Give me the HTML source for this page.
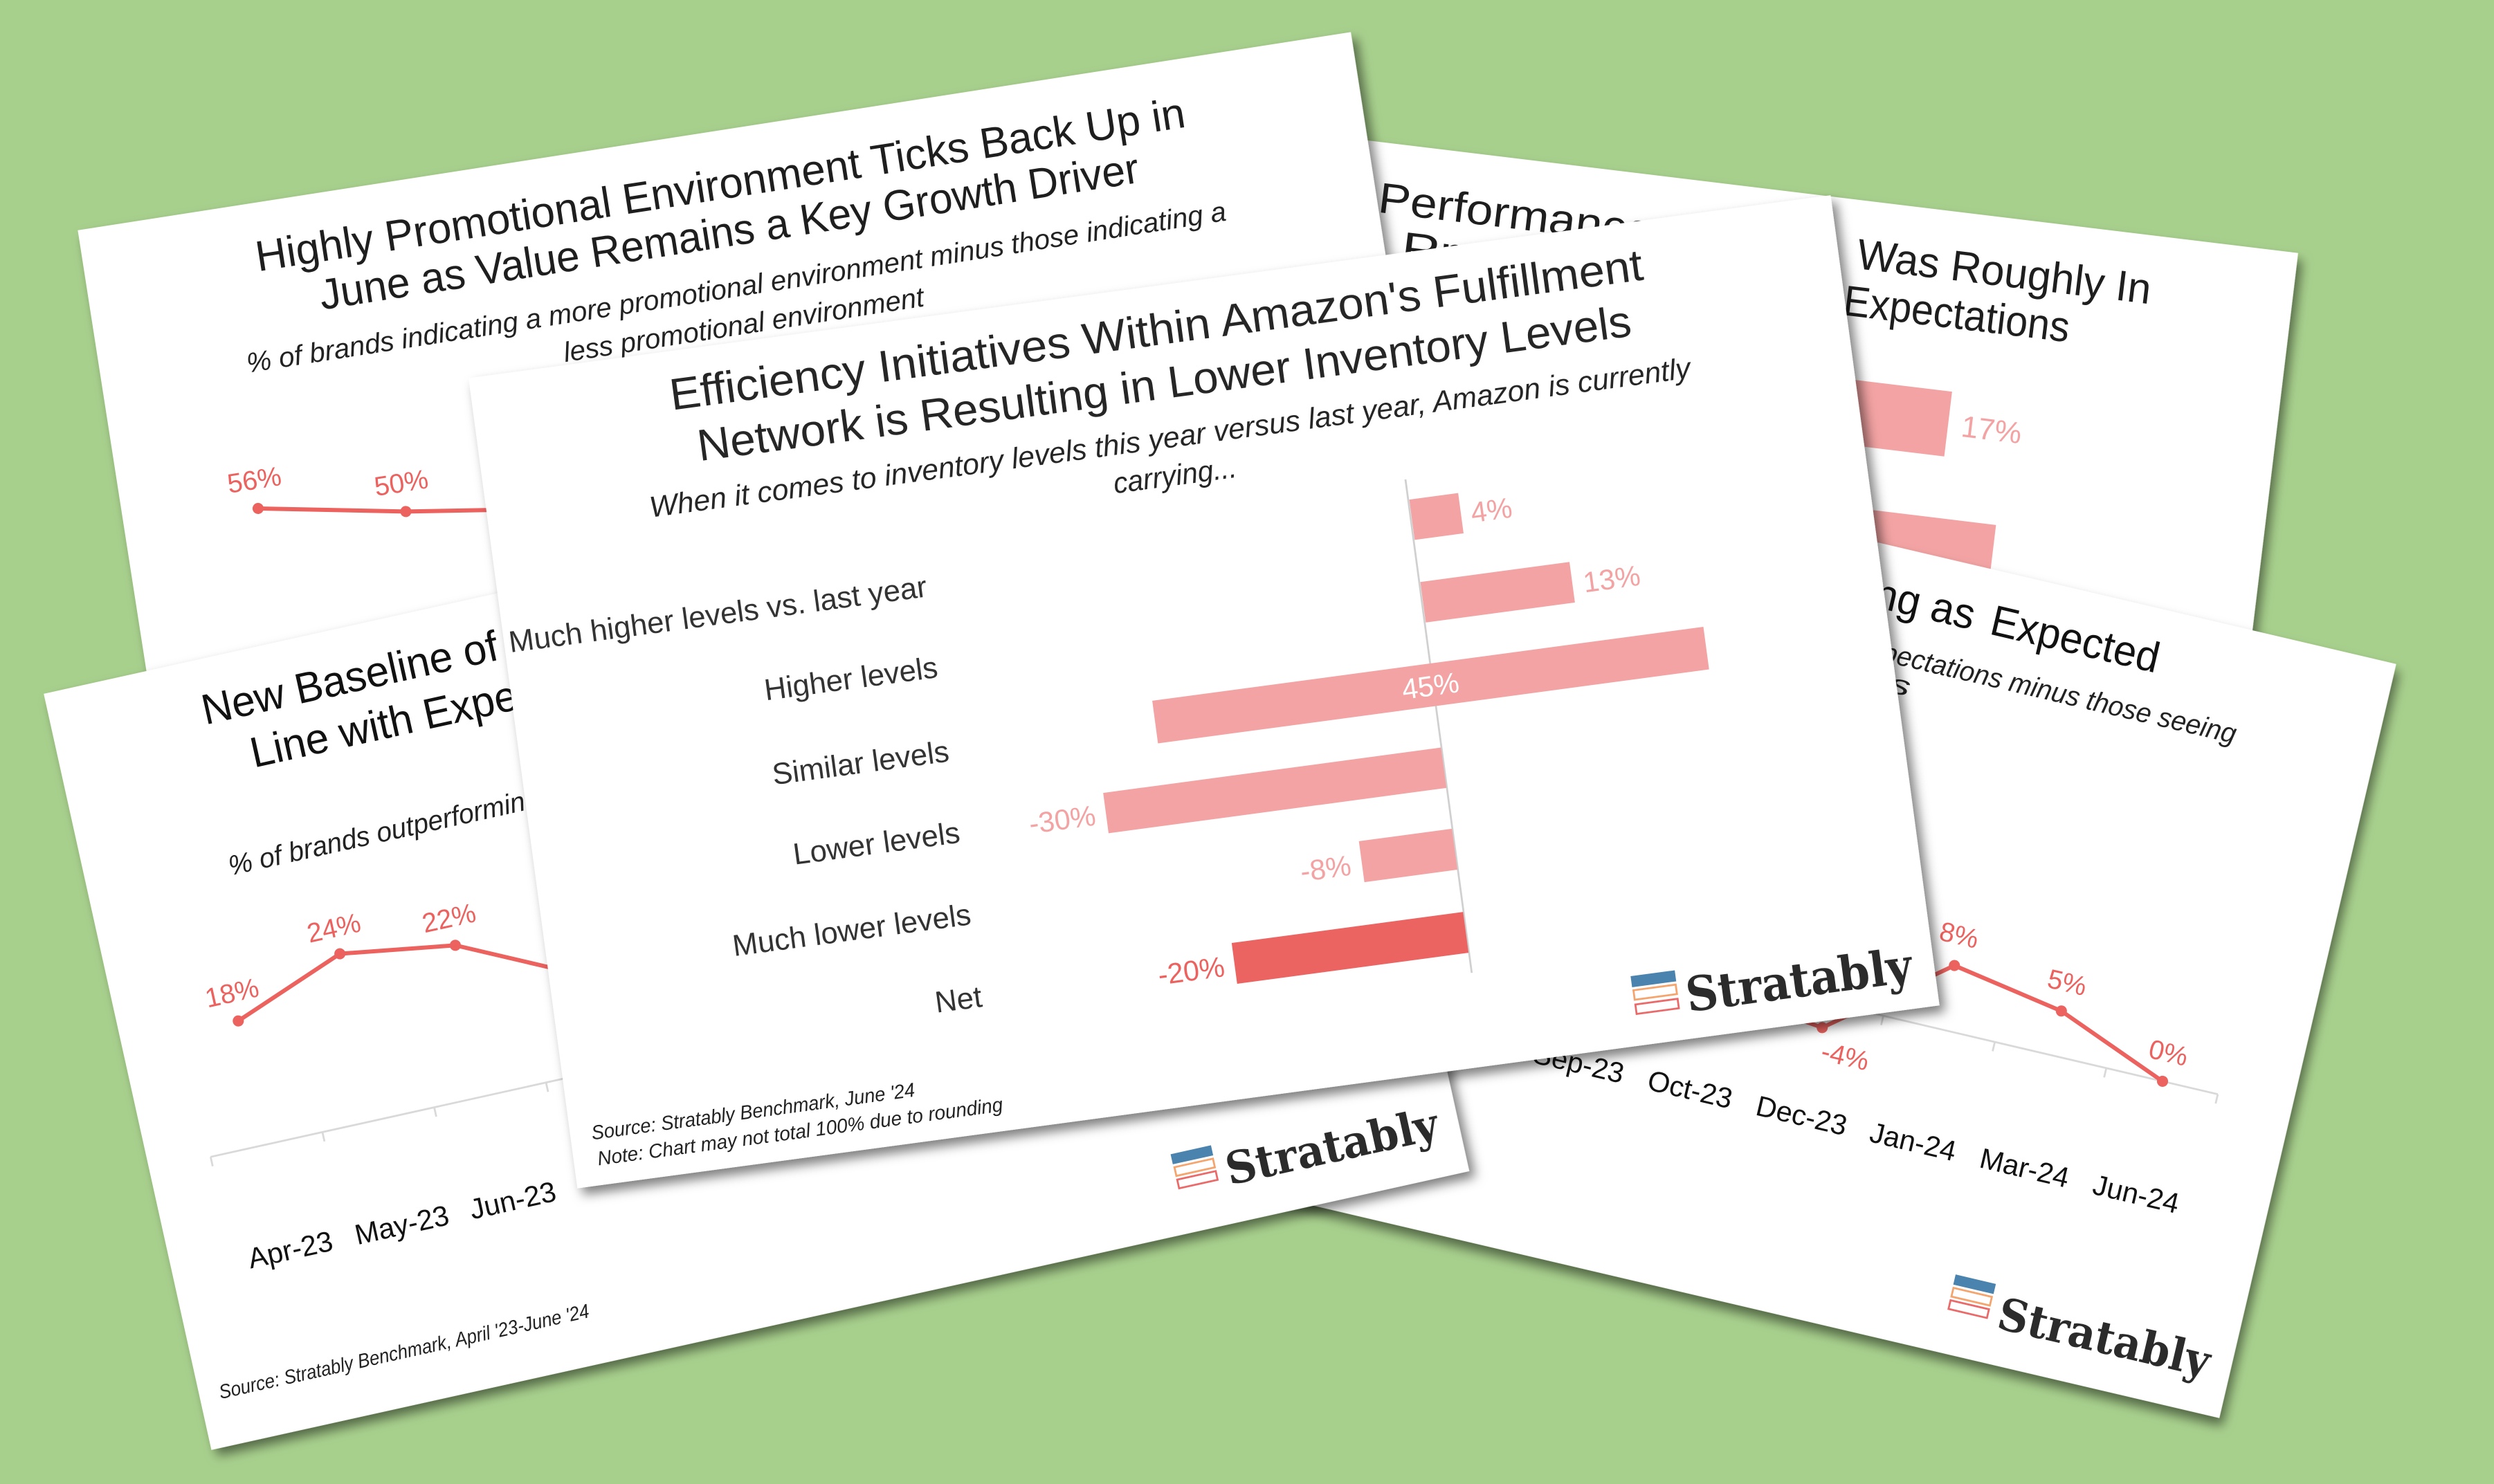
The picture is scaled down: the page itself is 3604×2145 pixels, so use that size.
<!DOCTYPE html>
<html><head><meta charset="utf-8"><style>html,body{margin:0;padding:0;background:#a8d08d;overflow:hidden}svg{display:block}</style></head>
<body>
<svg xmlns="http://www.w3.org/2000/svg" width="3604" height="2145" viewBox="0 0 1568 933.2" preserveAspectRatio="none" font-family="'Liberation Sans','DejaVu Sans',sans-serif">
<defs>
<filter id="sh" x="-5%" y="-5%" width="114%" height="118%"><feDropShadow dx="3" dy="4.5" stdDeviation="3.5" flood-color="#000" flood-opacity="0.5"/></filter>
</defs>
<rect width="1568" height="933.2" fill="#a8d08d"/>

<!-- Card B -->
<g transform="translate(640.7,61.8) rotate(6.9)">
<rect width="810" height="487" fill="#fff" filter="url(#sh)"/>
<g font-size="27" fill="#1e1e1e">
<text x="89" y="44" textLength="135" lengthAdjust="spacingAndGlyphs">Overall Q2</text>
<text x="232" y="44" textLength="290" lengthAdjust="spacingAndGlyphs">Performance vs. Plan</text>
<text x="535" y="43" textLength="186" lengthAdjust="spacingAndGlyphs">Was Roughly In</text>
<text x="137" y="73" textLength="100" lengthAdjust="spacingAndGlyphs">Line with</text>
<text x="250" y="73" textLength="270" lengthAdjust="spacingAndGlyphs">Pre-Season Plan</text>
<text x="530" y="73" textLength="143" lengthAdjust="spacingAndGlyphs">Expectations</text>
</g>
<g fill="#f3a3a3">
<rect x="300" y="112.7" width="304.5" height="41"/>
<rect x="300" y="192.6" width="342" height="41"/>
<rect x="300" y="272.5" width="260" height="41"/>
<rect x="300" y="352.5" width="200" height="41"/>
</g>
<text x="613" y="140" font-size="19" fill="#f3a3a3">17%</text>
</g>

<!-- Card A -->
<g transform="translate(48.9,144.8) rotate(-8.85)">
<rect width="810" height="487" fill="#fff" filter="url(#sh)"/>
<g font-size="27" fill="#1e1e1e">
<text x="108" y="43" textLength="591" lengthAdjust="spacingAndGlyphs">Highly Promotional Environment Ticks Back Up in</text>
<text x="144" y="73" textLength="521" lengthAdjust="spacingAndGlyphs">June as Value Remains a Key Growth Driver</text>
</g>
<g font-size="17.5" fill="#222" font-style="italic">
<text x="92" y="105" textLength="623" lengthAdjust="spacingAndGlyphs">% of brands indicating a more promotional environment minus those indicating a</text>
<text x="290" y="129" textLength="229" lengthAdjust="spacingAndGlyphs">less promotional environment</text>
</g>
<polyline points="85.1,190.3 176.6,206.5 268,219 359.5,225 451,215 542.5,230 634,210 725.5,205" fill="none" stroke="#eb625f" stroke-width="2.6"/>
<g fill="#eb625f">
<circle cx="85.1" cy="190.3" r="3.5"/><circle cx="176.6" cy="206.5" r="3.5"/><circle cx="268" cy="219" r="3.5"/>
</g>
<g font-size="17" fill="#eb625f" text-anchor="middle">
<text x="85.5" y="178">56%</text>
<text x="176.5" y="194">50%</text>
</g>
</g>

<!-- Card E -->
<g transform="translate(717.9,232.6) rotate(13.2)">
<rect width="810" height="487" fill="#fff" filter="url(#sh)"/>
<g font-size="27" fill="#111">
<text x="146" y="40" textLength="399" lengthAdjust="spacingAndGlyphs">Brand Performance Is Trending as</text>
<text x="556" y="40" textLength="108" lengthAdjust="spacingAndGlyphs">Expected</text>
</g>
<g font-size="17.5" fill="#222" font-style="italic">
<text x="88" y="72" textLength="376" lengthAdjust="spacingAndGlyphs">% of brands seeing performance above</text>
<text x="476" y="72" textLength="246" lengthAdjust="spacingAndGlyphs">expectations minus those seeing</text>
<text x="294" y="90" textLength="222" lengthAdjust="spacingAndGlyphs">below expectations</text>
</g>
<g stroke="#d9d9d9" stroke-width="1.2">
<line x1="42.6" y1="289" x2="762.6" y2="289"/>
<line x1="42.6" y1="289" x2="42.6" y2="295"/><line x1="114.6" y1="289" x2="114.6" y2="295"/><line x1="186.6" y1="289" x2="186.6" y2="295"/><line x1="258.6" y1="289" x2="258.6" y2="295"/><line x1="330.6" y1="289" x2="330.6" y2="295"/><line x1="402.6" y1="289" x2="402.6" y2="295"/><line x1="474.6" y1="289" x2="474.6" y2="295"/><line x1="546.6" y1="289" x2="546.6" y2="295"/><line x1="618.6" y1="289" x2="618.6" y2="295"/><line x1="690.6" y1="289" x2="690.6" y2="295"/><line x1="762.6" y1="289" x2="762.6" y2="295"/>
</g>
<polyline points="78.9,275 150.9,268 222.9,280 294.9,290 366.9,282 438.9,297 510.9,305 582.9,248 654.9,260.5 726.9,289" fill="none" stroke="#eb625f" stroke-width="2.6"/>
<g fill="#eb625f">
<circle cx="510.9" cy="305" r="3.5"/><circle cx="582.9" cy="248" r="3.5"/><circle cx="654.9" cy="260.5" r="3.5"/><circle cx="726.9" cy="289" r="3.5"/>
<circle cx="438.9" cy="297" r="3.5"/><circle cx="366.9" cy="282" r="3.5"/>
</g>
<g font-size="17" fill="#eb625f" text-anchor="middle">
<text x="581.4" y="234.5">8%</text>
<text x="654.3" y="248">5%</text>
<text x="726.4" y="276.5">0%</text>
<text x="529" y="325">-4%</text>
</g>
<g font-size="18" fill="#111" text-anchor="middle">
<text x="78.9" y="368">Apr-23</text><text x="150.9" y="368">May-23</text><text x="222.9" y="368">Jun-23</text><text x="294.9" y="368">Aug-23</text><text x="366.9" y="368">Sep-23</text><text x="438.9" y="368">Oct-23</text><text x="510.9" y="368">Dec-23</text><text x="582.9" y="368">Jan-24</text><text x="654.9" y="368">Mar-24</text><text x="726.9" y="368">Jun-24</text>
</g>
<rect x="628" y="437" width="26" height="6.5" fill="#4a84ae"/>
<rect x="628.6" y="445.5" width="24.8" height="5.6" fill="none" stroke="#f4a46c" stroke-width="1.2"/>
<rect x="628.6" y="453.5" width="24.8" height="5.6" fill="none" stroke="#ea6a6a" stroke-width="1.2"/>
<text x="660" y="464" font-family="'DejaVu Serif','Liberation Serif',serif" font-weight="bold" font-size="28" fill="#2b2b2b" textLength="136" lengthAdjust="spacingAndGlyphs">Stratably</text>
</g>

<!-- Card D -->
<g transform="translate(27.5,436.3) rotate(-12.5)">
<rect width="810" height="487" fill="#fff" filter="url(#sh)"/>
<g font-size="27" fill="#111">
<text x="95" y="41" textLength="190" lengthAdjust="spacingAndGlyphs">New Baseline of</text>
<text x="295" y="41" textLength="420" lengthAdjust="spacingAndGlyphs">Brand Performance Roughly In</text>
<text x="119" y="74" textLength="262" lengthAdjust="spacingAndGlyphs">Line with Expectations</text>
</g>
<text x="90" y="137" font-size="17.5" fill="#222" font-style="italic" textLength="300" lengthAdjust="spacingAndGlyphs">% of brands outperforming expectations</text>
<g stroke="#d9d9d9" stroke-width="1.2">
<line x1="39.4" y1="307" x2="759.4" y2="307"/>
<line x1="39.4" y1="307" x2="39.4" y2="313"/><line x1="111.4" y1="307" x2="111.4" y2="313"/><line x1="183.4" y1="307" x2="183.4" y2="313"/><line x1="255.4" y1="307" x2="255.4" y2="313"/><line x1="327.4" y1="307" x2="327.4" y2="313"/><line x1="399.4" y1="307" x2="399.4" y2="313"/><line x1="471.4" y1="307" x2="471.4" y2="313"/><line x1="543.4" y1="307" x2="543.4" y2="313"/><line x1="615.4" y1="307" x2="615.4" y2="313"/><line x1="687.4" y1="307" x2="687.4" y2="313"/><line x1="759.4" y1="307" x2="759.4" y2="313"/>
</g>
<polyline points="74.9,227.3 146.4,199.9 218.4,210.4 290.3,245 362,240 434,250 506,255 578,240 650,250 722,260" fill="none" stroke="#eb625f" stroke-width="2.6"/>
<g fill="#eb625f">
<circle cx="74.9" cy="227.3" r="3.5"/><circle cx="146.4" cy="199.9" r="3.5"/><circle cx="218.4" cy="210.4" r="3.5"/><circle cx="290.3" cy="245" r="3.5"/>
</g>
<g font-size="17" fill="#eb625f" text-anchor="middle">
<text x="74.8" y="215">18%</text>
<text x="146.2" y="189">24%</text>
<text x="218.2" y="198.6">22%</text>
</g>
<g font-size="18" fill="#111" text-anchor="middle">
<text x="75.7" y="381">Apr-23</text><text x="147.5" y="381">May-23</text><text x="219" y="381">Jun-23</text>
</g>
<text x="12.6" y="457" font-size="12.5" fill="#222" font-style="italic" textLength="238" lengthAdjust="spacingAndGlyphs">Source: Stratably Benchmark, April '23-June '24</text>
<rect x="629" y="436" width="26" height="6.5" fill="#4a84ae"/>
<rect x="629.6" y="444.5" width="24.8" height="5.6" fill="none" stroke="#f4a46c" stroke-width="1.2"/>
<rect x="629.6" y="452.5" width="24.8" height="5.6" fill="none" stroke="#ea6a6a" stroke-width="1.2"/>
<text x="661" y="463" font-family="'DejaVu Serif','Liberation Serif',serif" font-weight="bold" font-size="28" fill="#2b2b2b" textLength="136" lengthAdjust="spacingAndGlyphs">Stratably</text>
</g>

<!-- Card C -->
<g transform="translate(294.6,237.8) rotate(-7.65)">
<rect width="864" height="514" fill="#fff" filter="url(#sh)"/>
<g font-size="28" fill="#262626">
<text x="124" y="37" textLength="617" lengthAdjust="spacingAndGlyphs">Efficiency Initiatives Within Amazon's Fulfillment</text>
<text x="137" y="71" textLength="592" lengthAdjust="spacingAndGlyphs">Network is Resulting in Lower Inventory Levels</text>
</g>
<g font-size="18.5" fill="#262626" font-style="italic">
<text x="102" y="102" textLength="660" lengthAdjust="spacingAndGlyphs">When it comes to inventory levels this year versus last year, Amazon is currently</text>
<text x="393" y="126" textLength="78" lengthAdjust="spacingAndGlyphs">carrying...</text>
</g>
<line x1="575.3" y1="141.5" x2="575.3" y2="454.6" stroke="#d0d0d0" stroke-width="1.2"/>
<g fill="#f3a3a3">
<rect x="576" y="154.4" width="31" height="25.6"/>
<rect x="576" y="206.7" width="94.6" height="25.7"/>
<rect x="399" y="258.3" width="349.6" height="27"/>
<rect x="360.7" y="311.6" width="214.3" height="25.6"/>
<rect x="516" y="363.1" width="59" height="26"/>
</g>
<rect x="428.2" y="415.9" width="146.8" height="25.9" fill="#eb6461"/>
<g font-size="18" text-anchor="middle">
<text x="626.3" y="174" fill="#f3a3a3">4%</text>
<text x="695.5" y="227" fill="#f3a3a3">13%</text>
<text x="573.6" y="278.5" fill="#fff">45%</text>
<text x="333" y="331" fill="#f3a3a3">-30%</text>
<text x="493" y="383.5" fill="#f3a3a3">-8%</text>
<text x="400.7" y="436" fill="#eb625f">-20%</text>
</g>
<g font-size="19" fill="#333" text-anchor="end">
<text x="268" y="174.5">Much higher levels vs. last year</text>
<text x="268" y="225.7">Higher levels</text>
<text x="268" y="279">Similar levels</text>
<text x="268" y="330.5">Lower levels</text>
<text x="268" y="382.5">Much lower levels</text>
<text x="268" y="434.7">Net</text>
</g>
<g font-size="12.5" fill="#222" font-style="italic">
<text x="13.4" y="485" textLength="205" lengthAdjust="spacingAndGlyphs">Source: Stratably Benchmark, June '24</text>
<text x="15" y="501.5" textLength="257" lengthAdjust="spacingAndGlyphs">Note: Chart may not total 100% due to rounding</text>
</g>
<rect x="674" y="470" width="28" height="7" fill="#4a84ae"/>
<rect x="674.6" y="479" width="26.8" height="6" fill="none" stroke="#f4a46c" stroke-width="1.2"/>
<rect x="674.6" y="488" width="26.8" height="6" fill="none" stroke="#ea6a6a" stroke-width="1.2"/>
<text x="707" y="497" font-family="'DejaVu Serif','Liberation Serif',serif" font-weight="bold" font-size="30" fill="#2b2b2b" textLength="143" lengthAdjust="spacingAndGlyphs">Stratably</text>
</g>
</svg>
</body></html>
